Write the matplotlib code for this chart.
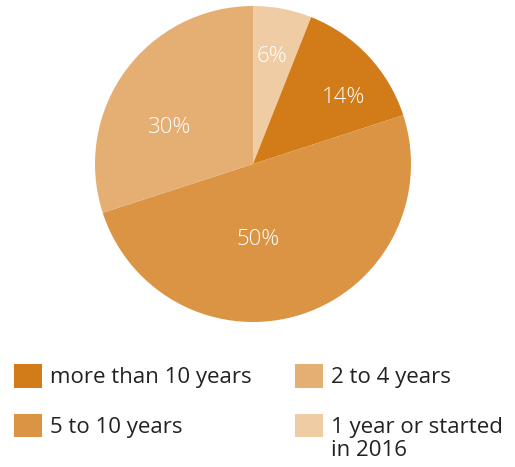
import matplotlib.pyplot as plt

plt.rcParams['font.family'] = ['Open Sans', 'DejaVu Sans']

# pie slices, clockwise from 12 o'clock
slice_labels = ['1 year or started', 'more than 10 years', '5 to 10 years', '2 to 4 years']
label_extra = 'in 2016'   # second line of the first label
shares = [6, 14, 50, 30]
colors = ['#EFCCA4', '#D17C19', '#DA9444', '#E5AF74']
legend_order = [1, 2, 3, 0]

W, H = 515, 467
fig = plt.figure(figsize=(W / 100, H / 100), dpi=100)

cx, cy, r = 253, 164, 158
ax = fig.add_axes([(cx - r) / W, (H - cy - r) / H, 2 * r / W, 2 * r / H])

wedges, texts, autotexts = ax.pie(
    shares, colors=colors, startangle=90, counterclock=False,
    autopct='%d%%', pctdistance=0.66, radius=1,
    wedgeprops=dict(linewidth=0),
    textprops=dict(color='white', fontsize=16, fontweight='light'))

# label spots as the original places them (axes data units)
label_xy = [(0.12, 0.68), (0.57, 0.42), (0.03, -0.48), (-0.53, 0.23)]
for t, xy in zip(autotexts, label_xy):
    t.set_position(xy)

ax.set_xlim(-1, 1)
ax.set_ylim(-1, 1)
ax.set_aspect('equal')
ax.axis('off')

leg = fig.legend([wedges[i] for i in legend_order], [slice_labels[i] for i in legend_order],
                 ncol=2, loc='upper left', bbox_to_anchor=(14 / W, 1 - 364 / H),
                 frameon=False, fontsize=16, handlelength=1.26, handleheight=1.26,
                 handletextpad=0.36, columnspacing=1.94, labelspacing=1.14,
                 borderaxespad=0, borderpad=0, labelcolor='#222222')

# wrap the last label: second line sits under the first one
fig.canvas.draw()
last = leg.get_texts()[-1]
bb = last.get_window_extent().transformed(fig.transFigure.inverted())
fig.text(bb.x0, bb.y0 - 0.004, label_extra, fontsize=16, color='#222222',
         ha='left', va='top')

fig.savefig('out.png', dpi=100)
